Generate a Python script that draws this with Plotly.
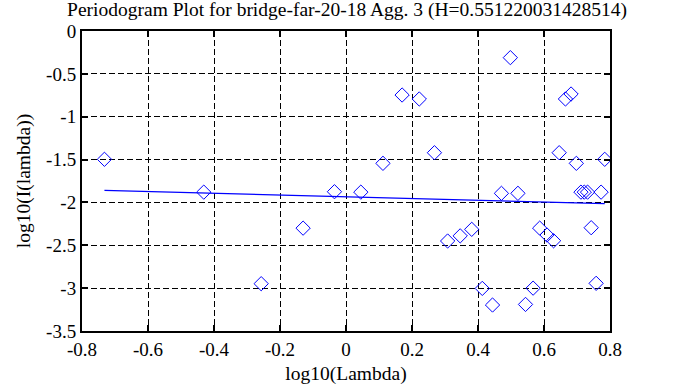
import plotly.graph_objects as go

log_lambda = [-0.732, -0.431, -0.257, -0.130, -0.035, 0.045, 0.112, 0.170, 0.222, 0.268,
              0.308, 0.346, 0.381, 0.413, 0.444, 0.471, 0.498, 0.521, 0.544, 0.567,
              0.587, 0.609, 0.629, 0.646, 0.665, 0.682, 0.698, 0.712, 0.722, 0.732,
              0.743, 0.758, 0.773, 0.784]
log_I = [-1.497, -1.880, -2.948, -2.300, -1.875, -1.880, -1.544, -0.747, -0.793, -1.420,
         -2.450, -2.390, -2.314, -3.003, -3.197, -1.894, -0.311, -1.894, -3.190, -3.000,
         -2.300, -2.380, -2.447, -1.420, -0.793, -0.735, -1.544, -1.880, -1.880, -1.880,
         -2.295, -2.944, -1.880, -1.497]
fit_x = [-0.732, 0.784]
fit_y = [-1.860, -2.015]

x_ticks = [-0.8, -0.6, -0.4, -0.2, 0, 0.2, 0.4, 0.6, 0.8]
x_labels = ["-0.8", "-0.6", "-0.4", "-0.2", "0", "0.2", "0.4", "0.6", "0.8"]
y_ticks = [0, -0.5, -1, -1.5, -2, -2.5, -3, -3.5]
y_labels = ["0", "-0.5", "-1", "-1.5", "-2", "-2.5", "-3", "-3.5"]

font = "Liberation Serif"
W, H = 683, 387

fig = go.Figure()
fig.add_trace(go.Scatter(x=log_lambda, y=log_I, mode="markers",
                         marker=dict(symbol="diamond-open", size=11, color="#0000ff",
                                     line=dict(width=1, color="#0000ff")),
                         showlegend=False))
fig.add_trace(go.Scatter(x=fit_x, y=fit_y, mode="lines",
                         line=dict(color="#0000ff", width=1.2), showlegend=False))

axis_common = dict(showline=True, linecolor="black", linewidth=2, mirror="ticks",
                   ticks="inside", ticklen=6, tickwidth=2, tickcolor="black",
                   showgrid=True, gridcolor="black", gridwidth=1, griddash="6px,3px",
                   zeroline=False, tickfont=dict(family=font, size=19, color="black"))

fig.update_xaxes(range=[-0.8, 0.8], tickvals=x_ticks, ticktext=x_labels,
                 title=dict(text="log10(Lambda)", font=dict(family=font, size=19.5, color="black"),
                            standoff=8),
                 **axis_common)
fig.update_yaxes(range=[-3.5, 0], tickvals=y_ticks, ticktext=y_labels,
                 title=dict(text="log10(I(lambda))", font=dict(family=font, size=19.5, color="black"),
                            standoff=10),
                 **axis_common)

fig.update_layout(
    width=W, height=H,
    font=dict(family=font, color="black"),
    margin=dict(l=82, r=73, t=31, b=56, autoexpand=False),
    paper_bgcolor="white", plot_bgcolor="white",
    title=dict(text="Periodogram Plot for bridge-far-20-18 Agg. 3 (H=0.551220031428514)",
               font=dict(family=font, size=19.5, color="black"),
               x=347 / W, xanchor="center", y=1 - 9 / H, yanchor="middle"),
)

fig.write_html("out.html", post_script="document.body.style.margin='0';",
               config={"displayModeBar": False})
